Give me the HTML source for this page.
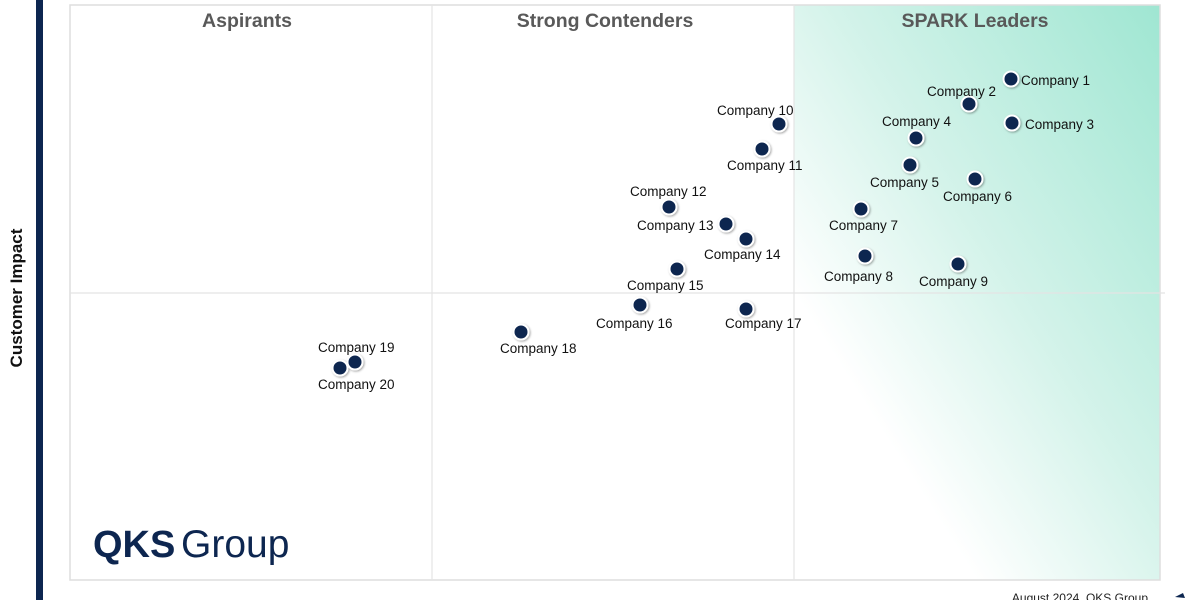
<!DOCTYPE html>
<html><head><meta charset="utf-8"><style>
body{margin:0;width:1200px;height:600px;overflow:hidden;background:#fff;font-family:"Liberation Sans",Arial,sans-serif}
</style></head><body>
<svg width="1200" height="600" xmlns="http://www.w3.org/2000/svg" font-family="Liberation Sans, Arial, sans-serif">
<defs>
<linearGradient id="g" x1="1" y1="0" x2="0" y2="1">
<stop offset="0" stop-color="#9fe6d2"/>
<stop offset="0.45" stop-color="#d4f3ea"/>
<stop offset="0.75" stop-color="#ffffff"/>
</linearGradient>
<filter id="s" x="-50%" y="-50%" width="200%" height="200%"><feDropShadow dx="1" dy="1" stdDeviation="1" flood-opacity="0.35"/></filter>
</defs>
<rect x="36" y="0" width="7" height="600" fill="#0d2650"/>
<rect x="794" y="5" width="366" height="575" fill="url(#g)"/>
<rect x="70" y="5" width="1090" height="575" fill="none" stroke="#dedede" stroke-width="1.5"/>
<line x1="432" y1="5" x2="432" y2="580" stroke="#e4e4e4" stroke-width="1.2"/>
<line x1="794" y1="5" x2="794" y2="580" stroke="#e4e4e4" stroke-width="1.2"/>
<line x1="70" y1="293" x2="1165" y2="293" stroke="#e4e4e4" stroke-width="1.2"/>
<g font-size="19.5" font-weight="bold" fill="#595959" text-anchor="middle">
<text x="247" y="27">Aspirants</text>
<text x="605" y="27">Strong Contenders</text>
<text x="975" y="27">SPARK Leaders</text>
</g>
<text transform="translate(22,298) rotate(-90)" font-size="17" font-weight="bold" fill="#111" text-anchor="middle">Customer Impact</text>
<text x="93" y="557" font-size="38" font-weight="bold" fill="#0d2650">QKS</text>
<text x="181" y="557" font-size="39" fill="#0d2650">Group</text>
<text x="1148" y="602" font-size="12" fill="#222" text-anchor="end">August 2024, QKS Group</text>
<g fill="#0d2650" stroke="#fff" stroke-width="2" filter="url(#s)">
<circle cx="1011" cy="79" r="7.5"/><circle cx="969" cy="104" r="7.5"/><circle cx="1012" cy="123" r="7.5"/>
<circle cx="916" cy="138" r="7.5"/><circle cx="910" cy="165" r="7.5"/><circle cx="975" cy="179" r="7.5"/>
<circle cx="861" cy="209" r="7.5"/><circle cx="865" cy="256" r="7.5"/><circle cx="958" cy="264" r="7.5"/>
<circle cx="779" cy="124" r="7.5"/><circle cx="762" cy="149" r="7.5"/><circle cx="669" cy="207" r="7.5"/>
<circle cx="726" cy="224" r="7.5"/><circle cx="746" cy="239" r="7.5"/><circle cx="677" cy="269" r="7.5"/>
<circle cx="640" cy="305" r="7.5"/><circle cx="746" cy="309" r="7.5"/><circle cx="521" cy="332" r="7.5"/>
<circle cx="355" cy="362" r="7.5"/><circle cx="340" cy="368" r="7.5"/>
</g>
<g font-size="13.5" fill="#111">
<text x="1021" y="85">Company 1</text>
<text x="927" y="96">Company 2</text>
<text x="1025" y="129">Company 3</text>
<text x="882" y="126">Company 4</text>
<text x="870" y="187">Company 5</text>
<text x="943" y="201">Company 6</text>
<text x="829" y="230">Company 7</text>
<text x="824" y="281">Company 8</text>
<text x="919" y="286">Company 9</text>
<text x="717" y="115">Company 10</text>
<text x="727" y="170">Company 11</text>
<text x="630" y="196">Company 12</text>
<text x="637" y="230">Company 13</text>
<text x="704" y="259">Company 14</text>
<text x="627" y="290">Company 15</text>
<text x="596" y="328">Company 16</text>
<text x="725" y="328">Company 17</text>
<text x="500" y="353">Company 18</text>
<text x="318" y="352">Company 19</text>
<text x="318" y="389">Company 20</text>
</g>
<path d="M1175 597 l8 -4 l2 5 z" fill="#0d2650"/>
</svg>
</body></html>
